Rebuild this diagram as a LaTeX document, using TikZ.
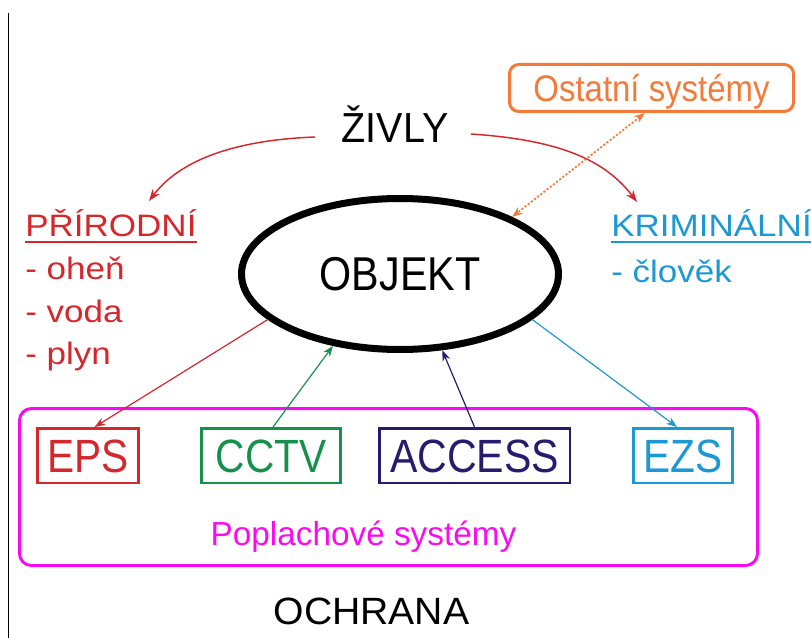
\documentclass[tikz,border=0pt]{standalone}
\usepackage{fontspec}
\setmainfont{Liberation Sans}
\usetikzlibrary{arrows.meta,shapes.geometric}
\definecolor{cred}{RGB}{212,40,44}
\definecolor{cgreen}{RGB}{22,145,75}
\definecolor{cnavy}{RGB}{40,26,108}
\definecolor{cblue}{RGB}{28,152,212}
\definecolor{corange}{RGB}{244,122,58}
\definecolor{cmag}{RGB}{250,10,240}
\begin{document}
\begin{tikzpicture}[x=0.75pt,y=-0.75pt,
  sysbox/.style={draw, line width=1.9pt, inner sep=0pt, minimum height=40.9pt,
                 text height=25pt, text depth=0pt, font=\fontsize{35pt}{38pt}\selectfont},
  lbl/.style={inner sep=0pt},
  collbl/.style={inner sep=0pt, anchor=base west, font=\fontsize{23.25pt}{28pt}\selectfont},
  arr/.style={line width=0.9pt, -{Stealth[length=8pt,width=6pt]}},
  curvearr/.style={line width=1.1pt, cred, -{Stealth[length=9pt,width=6.5pt]}},
]
\useasboundingbox (0,0) rectangle (811,638);
\clip (0,0) rectangle (811,638);

% left border line
\draw[line width=1.1pt] (8.5,13) -- (8.5,640);

% top title
\node[lbl, anchor=base] (zivly) at (395,143)
  {\fontsize{31.5pt}{36pt}\selectfont\scalebox{0.94}[1]{ŽIVLY}};

% other systems box
\node[draw=corange, line width=2.25pt, rounded corners=7pt, minimum width=213pt,
      minimum height=35.25pt, inner sep=0pt, text=corange, text height=20pt, text depth=0pt,
      font=\fontsize{27.75pt}{30pt}\selectfont] (ost) at (651.5,88)
  {\scalebox{0.89}[1]{Ostatní systémy}};

% object ellipse
\node[draw, ellipse, line width=5.25pt, inner sep=0pt, minimum width=237.75pt,
      minimum height=113.25pt, text height=25pt, text depth=0pt,
      font=\fontsize{35.6pt}{38pt}\selectfont] (obj) at (400,274)
  {\scalebox{0.87}[1]{OBJEKT}};

% left column (natural)
\node[collbl, text=cred] (prir) at (25,237) {\scalebox{1.13}[1]{PŘÍRODNÍ}};
\draw[cred, line width=1.5pt] ([yshift=-3.7pt]prir.base west) -- ([yshift=-3.7pt]prir.base east);
\node[collbl, text=cred] (ohen) at (25,280) {\scalebox{1.13}[1]{- oheň}};
\node[collbl, text=cred] (voda) at (25,322) {\scalebox{1.13}[1]{- voda}};
\node[collbl, text=cred] (plyn) at (25,364) {\scalebox{1.13}[1]{- plyn}};

% right column (criminal)
\node[collbl, text=cblue] (krim) at (611,237) {\scalebox{1.13}[1]{KRIMINÁLNÍ}};
\draw[cblue, line width=1.5pt] ([yshift=-3.7pt]krim.base west) -- ([yshift=-3.7pt]krim.base east);
\node[collbl, text=cblue] (clovek) at (611,282) {\scalebox{1.13}[1]{- člověk}};

% curved arrows from ZIVLY
\coordinate (zl) at (315,137);
\coordinate (zr) at (471,134);
\coordinate (pr) at (149,201);
\coordinate (kr) at (637,202);
\draw[curvearr] (zl) .. controls (235,140) and (180,160) .. (pr);
\draw[curvearr] (zr) .. controls (560,140) and (605,160) .. (kr);

% dotted link to other systems
\draw[corange, line width=1.3pt, dash pattern=on 1.6pt off 1.4pt,
      {Stealth[length=8pt,width=6pt]}-{Stealth[length=8pt,width=6pt]}]
  ([xshift=-5pt]ost.south) -- (obj.27);

% alarm systems frame
\node[draw=cmag, line width=2.25pt, rounded corners=9pt, minimum width=553.5pt,
      minimum height=117.75pt, inner sep=0pt] (alarm) at (388.5,487) {};
\node[lbl, anchor=base, text=cmag] (poplach) at (363.5,545)
  {\fontsize{25pt}{28pt}\selectfont Poplachové systémy};

% system boxes
\node[sysbox, draw=cred, text=cred, minimum width=76pt] (eps) at (88,455.5)
  {\scalebox{0.87}[1]{EPS}};
\node[sysbox, draw=cgreen, text=cgreen, minimum width=104.6pt] (cctv) at (271,455.5)
  {\scalebox{0.87}[1]{CCTV}};
\node[sysbox, draw=cnavy, text=cnavy, minimum width=142.9pt] (acc) at (474.5,455.5)
  {\scalebox{0.88}[1]{ACCESS}};
\node[sysbox, draw=cblue, text=cblue, minimum width=74.6pt] (ezs) at (683,455.5)
  {\scalebox{0.87}[1]{EZS}};

% connectors between object and systems
\draw[arr, cred] (obj.199) -- ([xshift=5pt]eps.north);
\draw[arr, cgreen] ([xshift=1.5pt]cctv.north) -- (obj.227);
\draw[arr, cnavy] (acc.north) -- (obj.299);
\draw[arr, cblue] (obj.341) -- ([xshift=-4.5pt]ezs.north);

% bottom label
\node[lbl, anchor=base] (ochrana) at (371.5,624)
  {\fontsize{28.5pt}{32pt}\selectfont\scalebox{1.03}[1]{OCHRANA}};
\end{tikzpicture}
\end{document}
